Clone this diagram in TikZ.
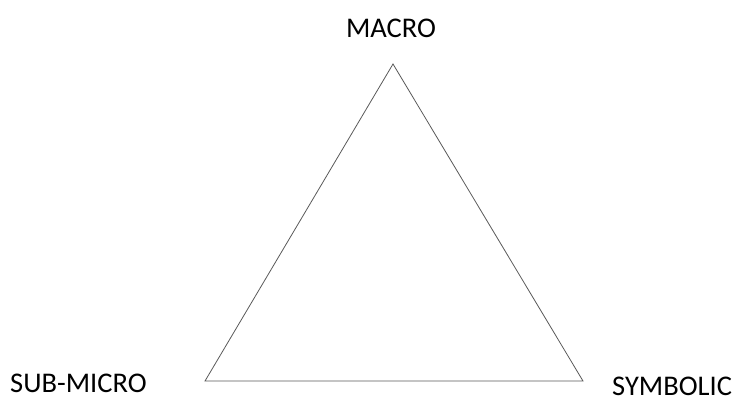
\documentclass[tikz,border=0pt]{standalone}
\usepackage{fontspec}
\setmainfont{Carlito}

\begin{document}
\begin{tikzpicture}[x=1pt, y=-1pt, every node/.style={font=\fontsize{28.5}{32}\selectfont, inner sep=0pt}]
        \useasboundingbox (0,0) rectangle (735,399);
        % corners of the triangle
        \coordinate (top) at (393,64);
        \coordinate (left) at (205,381);
        \coordinate (right) at (583,381);
        \draw[line width=0.8pt, black!65] (top) -- (right) -- (left) -- cycle;
        % level labels
        \node[anchor=base] (macro) at (391,37) {MACRO};
        \node[anchor=base west] (submicro) at (10,392) {SUB-MICRO};
        \node[anchor=base west] (symbolic) at (612,395) {SYMBOLIC};
    \end{tikzpicture}
\end{document}
